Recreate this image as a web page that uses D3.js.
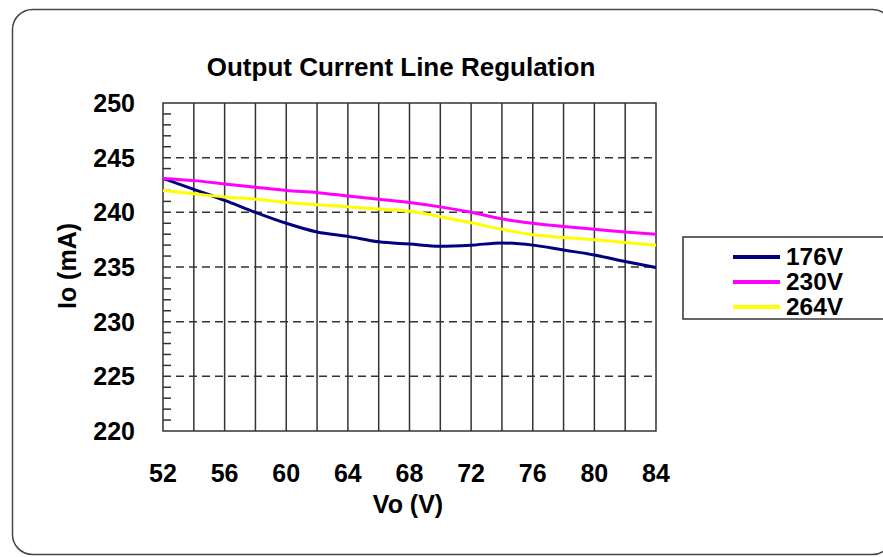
<!DOCTYPE html>
<html>
<head>
<meta charset="utf-8">
<script src="https://cdn.jsdelivr.net/npm/d3@7"></script>
<style>
  body { margin: 0; background: #fff; }
  svg { display: block; font-family: "Liberation Sans", Arial, sans-serif; }
</style>
</head>
<body>
<div id="chart"></div>
<script>
// données
const vo = [52, 54, 56, 58, 60, 62, 64, 66, 68, 70, 72, 74, 76, 78, 80, 82, 84]
const io176 = [243.1, 242.1, 241.1, 240.0, 239.0, 238.2, 237.8, 237.3, 237.1, 236.9, 237.0, 237.2, 237.0, 236.55, 236.1, 235.5, 234.95]
const io230 = [243.1, 242.9, 242.6, 242.3, 242.0, 241.8, 241.5, 241.2, 240.9, 240.5, 240.0, 239.4, 239.0, 238.7, 238.45, 238.2, 238.0]
const io264 = [242.0, 241.7, 241.4, 241.2, 240.9, 240.7, 240.5, 240.3, 240.1, 239.6, 239.05, 238.45, 237.95, 237.7, 237.5, 237.25, 237.0]
const seriesNames = ['176V', '230V', '264V']
const seriesColors = ['#000080', '#ff00ff', '#ffff00']
const xTicks = [52, 56, 60, 64, 68, 72, 76, 80, 84]
const yTicks = [220, 225, 230, 235, 240, 245, 250]

const W = 883, H = 557
const plot = {left: 163, right: 656, top: 103, bottom: 431}

const svg = d3.select('#chart').append('svg')
    .attr('width', W).attr('height', H)

// cadre arrondi
svg.append('rect')
    .attr('x', 12.5).attr('y', 9.5)
    .attr('width', 880).attr('height', 545)
    .attr('rx', 20).attr('ry', 20)
    .attr('fill', '#fff')
    .attr('stroke', '#444').attr('stroke-width', 1.5)

const x = d3.scaleLinear().domain([52, 84]).range([plot.left, plot.right])
const y = d3.scaleLinear().domain([220, 250]).range([plot.bottom, plot.top])

// titre
svg.append('text')
    .attr('x', 401).attr('y', 76)
    .attr('text-anchor', 'middle')
    .attr('font-weight', 'bold').attr('font-size', 26)
    .text('Output Current Line Regulation')

const g = svg.append('g')

// grille verticale (tous les 2 V)
g.selectAll('line.vgrid')
    .data(d3.range(54, 84, 2))
    .join('line')
    .attr('class', 'vgrid')
    .attr('x1', d => x(d)).attr('x2', d => x(d))
    .attr('y1', plot.top).attr('y2', plot.bottom)
    .attr('stroke', '#333').attr('stroke-width', 1.5)

// grille horizontale pointillée
g.selectAll('line.hgrid')
    .data(yTicks.filter(d => d > 220 && d < 250))
    .join('line')
    .attr('class', 'hgrid')
    .attr('x1', plot.left).attr('x2', plot.right)
    .attr('y1', d => y(d)).attr('y2', d => y(d))
    .attr('stroke', '#333').attr('stroke-width', 1.5)
    .attr('stroke-dasharray', '8,5')

// petites graduations
g.selectAll('line.minor')
    .data(d3.range(221, 250).filter(d => d % 5 !== 0))
    .join('line')
    .attr('class', 'minor')
    .attr('x1', plot.left).attr('x2', plot.left + 8)
    .attr('y1', d => y(d)).attr('y2', d => y(d))
    .attr('stroke', '#333').attr('stroke-width', 1.5)

// bordure du tracé
g.append('rect')
    .attr('x', plot.left).attr('y', plot.top)
    .attr('width', plot.right - plot.left).attr('height', plot.bottom - plot.top)
    .attr('fill', 'none').attr('stroke', '#333').attr('stroke-width', 1.5)

// étiquettes des axes
svg.selectAll('text.ytick')
    .data(yTicks)
    .join('text')
    .attr('class', 'ytick')
    .attr('x', 135).attr('y', d => y(d) + 9)
    .attr('text-anchor', 'end')
    .attr('font-weight', 'bold').attr('font-size', 25)
    .text(d => d)

svg.selectAll('text.xtick')
    .data(xTicks)
    .join('text')
    .attr('class', 'xtick')
    .attr('x', d => x(d)).attr('y', 482)
    .attr('text-anchor', 'middle')
    .attr('font-weight', 'bold').attr('font-size', 25)
    .text(d => d)

svg.append('text')
    .attr('x', 408).attr('y', 513)
    .attr('text-anchor', 'middle')
    .attr('font-weight', 'bold').attr('font-size', 25)
    .text('Vo (V)')

svg.append('text')
    .attr('transform', 'translate(76,266) rotate(-90)')
    .attr('text-anchor', 'middle')
    .attr('font-weight', 'bold').attr('font-size', 25)
    .text('Io (mA)')

// courbes
const series = [io176, io230, io264].map((vals, i) => ({
    name: seriesNames[i],
    color: seriesColors[i],
    values: vals.map((v, j) => ({vo: vo[j], io: v}))
}))

const line = d3.line()
    .x(d => x(d.vo))
    .y(d => y(d.io))
    .curve(d3.curveMonotoneX)

g.selectAll('path.serie')
    .data(series)
    .join('path')
    .attr('class', 'serie')
    .attr('d', d => line(d.values))
    .attr('fill', 'none')
    .attr('stroke', d => d.color)
    .attr('stroke-width', 3)

// légende
const legend = svg.append('g')
legend.append('rect')
    .attr('x', 683).attr('y', 237)
    .attr('width', 210).attr('height', 82)
    .attr('fill', '#fff').attr('stroke', '#333').attr('stroke-width', 1.5)

const item = legend.selectAll('g.item')
    .data(series)
    .join('g')
    .attr('class', 'item')
    .attr('transform', (d, i) => 'translate(0,' + (257 + i * 25) + ')')

item.append('line')
    .attr('x1', 733).attr('x2', 780)
    .attr('stroke', d => d.color).attr('stroke-width', 4)

item.append('text')
    .attr('x', 786).attr('y', 8)
    .attr('font-weight', 'bold').attr('font-size', 23)
    .attr('textLength', 57).attr('lengthAdjust', 'spacingAndGlyphs')
    .text(d => d.name)
</script>
</body>
</html>
